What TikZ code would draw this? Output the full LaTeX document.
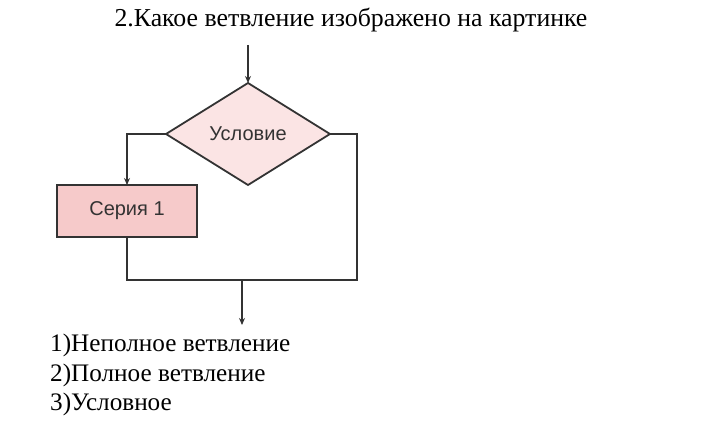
\documentclass[tikz,border=0pt]{standalone}
\usepackage{fontspec}
\setmainfont{Liberation Serif}
\newfontfamily\arialfont{Liberation Sans}
\usetikzlibrary{shapes.geometric,arrows.meta}
\definecolor{linegray}{HTML}{333333}
\definecolor{condpink}{HTML}{FBE4E4}
\definecolor{seriepink}{HTML}{F6CACA}
\begin{document}
\begin{tikzpicture}
[x=1pt,y=-1pt,
 every edge/.append style={color=linegray,line width=1.8pt},
 flow/.style={color=linegray,line width=1.8pt},
 tip/.style={-{Stealth[length=7pt,width=6pt]}},
 cond/.style={draw=linegray,line width=1.8pt,fill=condpink,diamond,aspect=1.6,
   inner sep=0pt,outer sep=0pt,minimum width=164pt,minimum height=102pt,
   font=\arialfont\fontsize{20}{20}\selectfont,text=linegray},
 serie/.style={draw=linegray,line width=1.8pt,fill=seriepink,rectangle,
   inner sep=0pt,outer sep=0pt,minimum width=140pt,minimum height=52pt,
   font=\arialfont\fontsize{20}{20}\selectfont,text=linegray},
 answer/.style={anchor=base west,inner sep=0pt,font=\fontsize{25.2}{25.2}\selectfont},
]
\useasboundingbox (0,0) rectangle (726,422);
\def \leftx {127}
\def \rightx {357}
\def \joiny {280}

\node[anchor=base,inner sep=0pt,font=\fontsize{25.8}{25.8}\selectfont] (title) at (351,27) {2.Какое ветвление изображено на картинке};

\coordinate (in) at (248,45);
\node[cond] (cond) at (248,134) {Условие};
\node[serie] (serie) at (\leftx,211) {Серия 1};
\coordinate (joinl) at (\leftx,\joiny);
\coordinate (joinr) at (\rightx,\joiny);
\coordinate (joinm) at (242,\joiny);
\coordinate (out) at (242,325);

\draw[flow,tip] (in) -- (cond.north);
\draw[flow,tip] (cond.west) -| (serie.north);
\draw[flow] (serie.south) -- (joinl) -- (joinr) |- (cond.east);
\draw[flow,tip] (joinm) -- (out);

\node[answer] (ans1) at (50,352) {1)Неполное ветвление};
\node[answer] (ans2) at (50,381) {2)Полное ветвление};
\node[answer] (ans3) at (50,410) {3)Условное};
\end{tikzpicture}
\end{document}
